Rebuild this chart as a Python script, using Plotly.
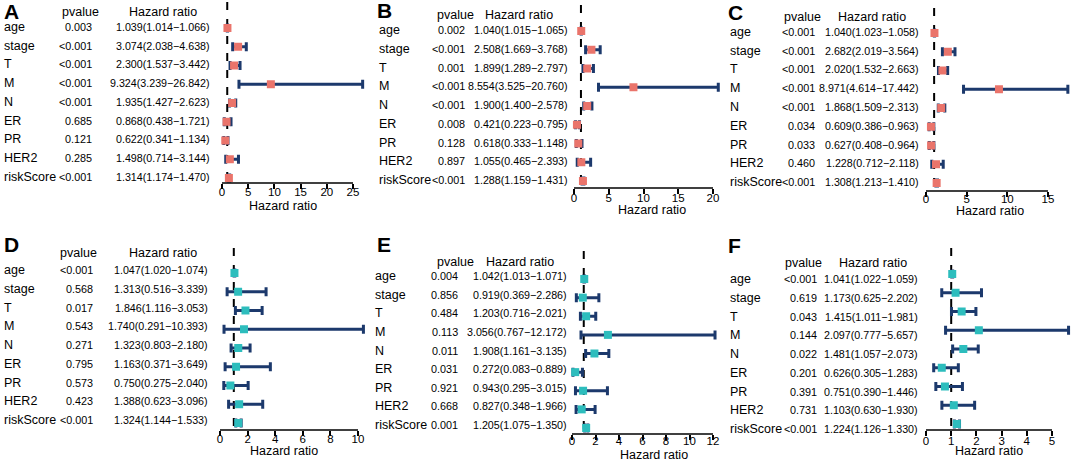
import plotly.graph_objects as go

W, H = 1072, 462

variables = ["age", "stage", "T", "M", "N", "ER", "PR", "HER2", "riskScore"]

# A
a_p = ["0.003", "<0.001", "<0.001", "<0.001", "<0.001", "0.685", "0.121", "0.285", "<0.001"]
a_hr = [1.039, 3.074, 2.300, 9.324, 1.935, 0.868, 0.622, 1.498, 1.314]
a_lo = [1.014, 2.038, 1.537, 3.239, 1.427, 0.438, 0.341, 0.714, 1.174]
a_hi = [1.066, 4.638, 3.442, 26.842, 2.623, 1.721, 1.134, 3.144, 1.470]
# B
b_p = ["0.002", "<0.001", "0.001", "<0.001", "<0.001", "0.008", "0.128", "0.897", "<0.001"]
b_hr = [1.040, 2.508, 1.899, 8.554, 1.900, 0.421, 0.618, 1.055, 1.288]
b_lo = [1.015, 1.669, 1.289, 3.525, 1.400, 0.223, 0.333, 0.465, 1.159]
b_hi = [1.065, 3.768, 2.797, 20.760, 2.578, 0.795, 1.148, 2.393, 1.431]
# C
c_p = ["<0.001", "<0.001", "<0.001", "<0.001", "<0.001", "0.034", "0.033", "0.460", "<0.001"]
c_hr = [1.040, 2.682, 2.020, 8.971, 1.868, 0.609, 0.627, 1.228, 1.308]
c_lo = [1.023, 2.019, 1.532, 4.614, 1.509, 0.386, 0.408, 0.712, 1.213]
c_hi = [1.058, 3.564, 2.663, 17.442, 2.313, 0.963, 0.964, 2.118, 1.410]
# D
d_p = ["<0.001", "0.568", "0.017", "0.543", "0.271", "0.795", "0.573", "0.423", "<0.001"]
d_hr = [1.047, 1.313, 1.846, 1.740, 1.323, 1.163, 0.750, 1.388, 1.324]
d_lo = [1.020, 0.516, 1.116, 0.291, 0.803, 0.371, 0.275, 0.623, 1.144]
d_hi = [1.074, 3.339, 3.053, 10.393, 2.180, 3.649, 2.040, 3.096, 1.533]
# E
e_p = ["0.004", "0.856", "0.484", "0.113", "0.011", "0.031", "0.921", "0.668", "0.001"]
e_hr = [1.042, 0.919, 1.203, 3.056, 1.908, 0.272, 0.943, 0.827, 1.205]
e_lo = [1.013, 0.369, 0.716, 0.767, 1.161, 0.083, 0.295, 0.348, 1.075]
e_hi = [1.071, 2.286, 2.021, 12.172, 3.135, 0.889, 3.015, 1.966, 1.350]
# F
f_p = ["<0.001", "0.619", "0.043", "0.144", "0.022", "0.201", "0.391", "0.731", "<0.001"]
f_hr = [1.041, 1.173, 1.415, 2.097, 1.481, 0.626, 0.751, 1.103, 1.224]
f_lo = [1.022, 0.625, 1.011, 0.777, 1.057, 0.305, 0.390, 0.630, 1.126]
f_hi = [1.059, 2.202, 1.981, 5.657, 2.073, 1.283, 1.446, 1.930, 1.330]

a_ticks = [0, 5, 10, 15, 20, 25]
b_ticks = [0, 5, 10, 15, 20]
c_ticks = [0, 5, 10, 15]
d_ticks = [0, 2, 4, 6, 8, 10]
e_ticks = [0, 2, 4, 6, 8, 10, 12]
f_ticks = [0, 1, 2, 3, 4, 5]

SALMON = "#EA746B"
TEAL = "#2DBDBD"
NAVY = "#1C396C"
FONT = "Arial, Liberation Sans, sans-serif"

# layout in pixels for each panel
panels = [
    dict(letter="A", p=a_p, hr=a_hr, lo=a_lo, hi=a_hi, ticks=a_ticks, col=SALMON,
         lab_x=2, p_r=94, hr_r=212, hp=80, hh=163, hy=12, let_x=2, let_y=11,
         x0=222, ppu=5.24, xr=366, r_top=28, r_bot=178, ax_y=183, top=2, sh=1,
         tso=-7, tt_x=283, tt_y=206),
    dict(letter="B", p=b_p, hr=b_hr, lo=b_lo, hi=b_hi, ticks=b_ticks, col=SALMON,
         lab_x=377, p_r=467, hr_r=570, hp=455, hh=519, hy=15, let_x=375, let_y=10,
         x0=574, ppu=6.95, xr=721, r_top=31, r_bot=181, ax_y=188, top=5, sh=1,
         tso=-6, tt_x=652, tt_y=210),
    dict(letter="C", p=c_p, hr=c_hr, lo=c_lo, hi=c_hi, ticks=c_ticks, col=SALMON,
         lab_x=728, p_r=817, hr_r=921, hp=802, hh=872, hy=17, let_x=726, let_y=12,
         x0=926, ppu=8.133, xr=1071, r_top=33, r_bot=183, ax_y=191, top=8, sh=1,
         tso=-8, tt_x=990, tt_y=211),
    dict(letter="D", p=d_p, hr=d_hr, lo=d_lo, hi=d_hi, ticks=d_ticks, col=TEAL,
         lab_x=2, p_r=95, hr_r=210, hp=78, hh=163, hy=253, let_x=2, let_y=244,
         x0=220, ppu=13.8, xr=366, r_top=273, r_bot=423, ax_y=430, top=248, sh=3,
         tso=-7, tt_x=284, tt_y=451),
    dict(letter="E", p=e_p, hr=e_hr, lo=e_lo, hi=e_hi, ticks=e_ticks, col=TEAL,
         lab_x=373, p_r=460, hr_r=569, hp=455, hh=520, hy=262, let_x=375, let_y=244,
         x0=572, ppu=11.75, xr=718, r_top=279, r_bot=428, ax_y=434, top=251, sh=3,
         tso=-9, tt_x=654, tt_y=455),
    dict(letter="F", p=f_p, hr=f_hr, lo=f_lo, hi=f_hi, ticks=f_ticks, col=TEAL,
         lab_x=728, p_r=819, hr_r=920, hp=803, hh=873, hy=263, let_x=726, let_y=245,
         x0=926, ppu=25.2, xr=1071, r_top=274, r_bot=424, ax_y=430, top=248, sh=-5,
         tso=-5, tt_x=989, tt_y=451),
]

rows = [9 - k for k in range(len(variables))]

fig = go.Figure()
annotations = []
shapes = []
layout_axes = {}

for i, pn in enumerate(panels, start=1):
    xr_name = "x" if i == 1 else f"x{i}"
    yr_name = "y" if i == 1 else f"y{i}"
    xa_key = "xaxis" if i == 1 else f"xaxis{i}"
    ya_key = "yaxis" if i == 1 else f"yaxis{i}"

    left = pn["x0"] - 7
    s = (pn["r_bot"] - pn["r_top"]) / 8.0
    v_lo = 9 - (pn["ax_y"] - pn["r_top"]) / s
    v_hi = 9 + (pn["r_top"] - pn["top"]) / s

    layout_axes[xa_key] = dict(
        domain=[left / W, pn["xr"] / W],
        range=[(left - pn["x0"]) / pn["ppu"], (pn["xr"] - pn["x0"]) / pn["ppu"]],
        anchor=yr_name, showgrid=False, zeroline=False, showline=False,
        ticks="outside", ticklen=5, tickwidth=1.5, tickcolor="black",
        ticklabelstandoff=pn["tso"],
        tickvals=pn["ticks"], tickfont=dict(size=11.5, color="black", family=FONT),
        fixedrange=True,
    )
    layout_axes[ya_key] = dict(
        domain=[1 - pn["ax_y"] / H, 1 - pn["top"] / H],
        range=[v_lo, v_hi], anchor=xr_name, visible=False, fixedrange=True,
    )

    hr = pn["hr"]
    fig.add_trace(go.Scatter(
        x=hr, y=rows, mode="markers", xaxis=xr_name, yaxis=yr_name,
        marker=dict(symbol="square", size=8, color=pn["col"]),
        error_x=dict(type="data", symmetric=False,
                     array=[h - m for h, m in zip(pn["hi"], hr)],
                     arrayminus=[m - l for m, l in zip(hr, pn["lo"])],
                     color=NAVY, thickness=3, width=4.5),
        cliponaxis=False, showlegend=False, hoverinfo="skip",
    ))

    # reference line at HR = 1
    shapes.append(dict(type="line", xref=xr_name, yref=f"{yr_name} domain",
                       x0=1, x1=1, y0=1, y1=0, layer="below",
                       line=dict(color="black", width=2, dash="8px,9px")))
    # axis line spanning the tick range
    shapes.append(dict(type="line", xref=xr_name, yref=f"{yr_name} domain",
                       x0=0, x1=pn["ticks"][-1], y0=0, y1=0,
                       line=dict(color="black", width=1.5)))

    # panel letter
    annotations.append(dict(text=pn["letter"], xref="paper", yref="paper",
                            x=pn["let_x"] / W, y=1 - pn["let_y"] / H,
                            xanchor="left", yanchor="middle", showarrow=False,
                            font=dict(size=21, family=FONT, color="black", weight="bold")))
    # headers
    annotations.append(dict(text="pvalue", xref="paper", yref="paper",
                            x=pn["hp"] / W, y=1 - pn["hy"] / H,
                            xanchor="center", yanchor="middle", showarrow=False,
                            font=dict(size=12.5, family=FONT, color="black")))
    annotations.append(dict(text="Hazard ratio", xref="paper", yref="paper",
                            x=pn["hh"] / W, y=1 - pn["hy"] / H,
                            xanchor="center", yanchor="middle", showarrow=False,
                            font=dict(size=12.5, family=FONT, color="black")))
    # axis title
    annotations.append(dict(text="Hazard ratio", xref="paper", yref="paper",
                            x=pn["tt_x"] / W, y=1 - pn["tt_y"] / H,
                            xanchor="center", yanchor="middle", showarrow=False,
                            font=dict(size=12.5, family=FONT, color="black")))

    for k, var in enumerate(variables):
        txt = f"{hr[k]:.3f}({pn['lo'][k]:.3f}\u2212{pn['hi'][k]:.3f})"
        annotations.append(dict(text=var, xref="paper", yref=yr_name,
                                x=pn["lab_x"] / W, y=rows[k], yshift=pn["sh"],
                                xanchor="left", yanchor="middle", showarrow=False,
                                font=dict(size=12.5, family=FONT, color="black")))
        annotations.append(dict(text=pn["p"][k], xref="paper", yref=yr_name,
                                x=pn["p_r"] / W, y=rows[k], yshift=pn["sh"],
                                xanchor="right", yanchor="middle", showarrow=False,
                                font=dict(size=10.8, family=FONT, color="black")))
        annotations.append(dict(text=txt, xref="paper", yref=yr_name,
                                x=pn["hr_r"] / W, y=rows[k], yshift=pn["sh"],
                                xanchor="right", yanchor="middle", showarrow=False,
                                font=dict(size=10.7, family=FONT, color="black")))

fig.update_layout(
    width=W, height=H,
    margin=dict(l=0, r=0, t=0, b=0),
    paper_bgcolor="white", plot_bgcolor="white",
    font=dict(family=FONT, color="black"),
    annotations=annotations, shapes=shapes,
    **layout_axes,
)

# drop the page's default body margin so the figure sits at the window corner
fig.write_html("out.html", config={"displayModeBar": False},
               post_script="document.body.style.margin='0';")
